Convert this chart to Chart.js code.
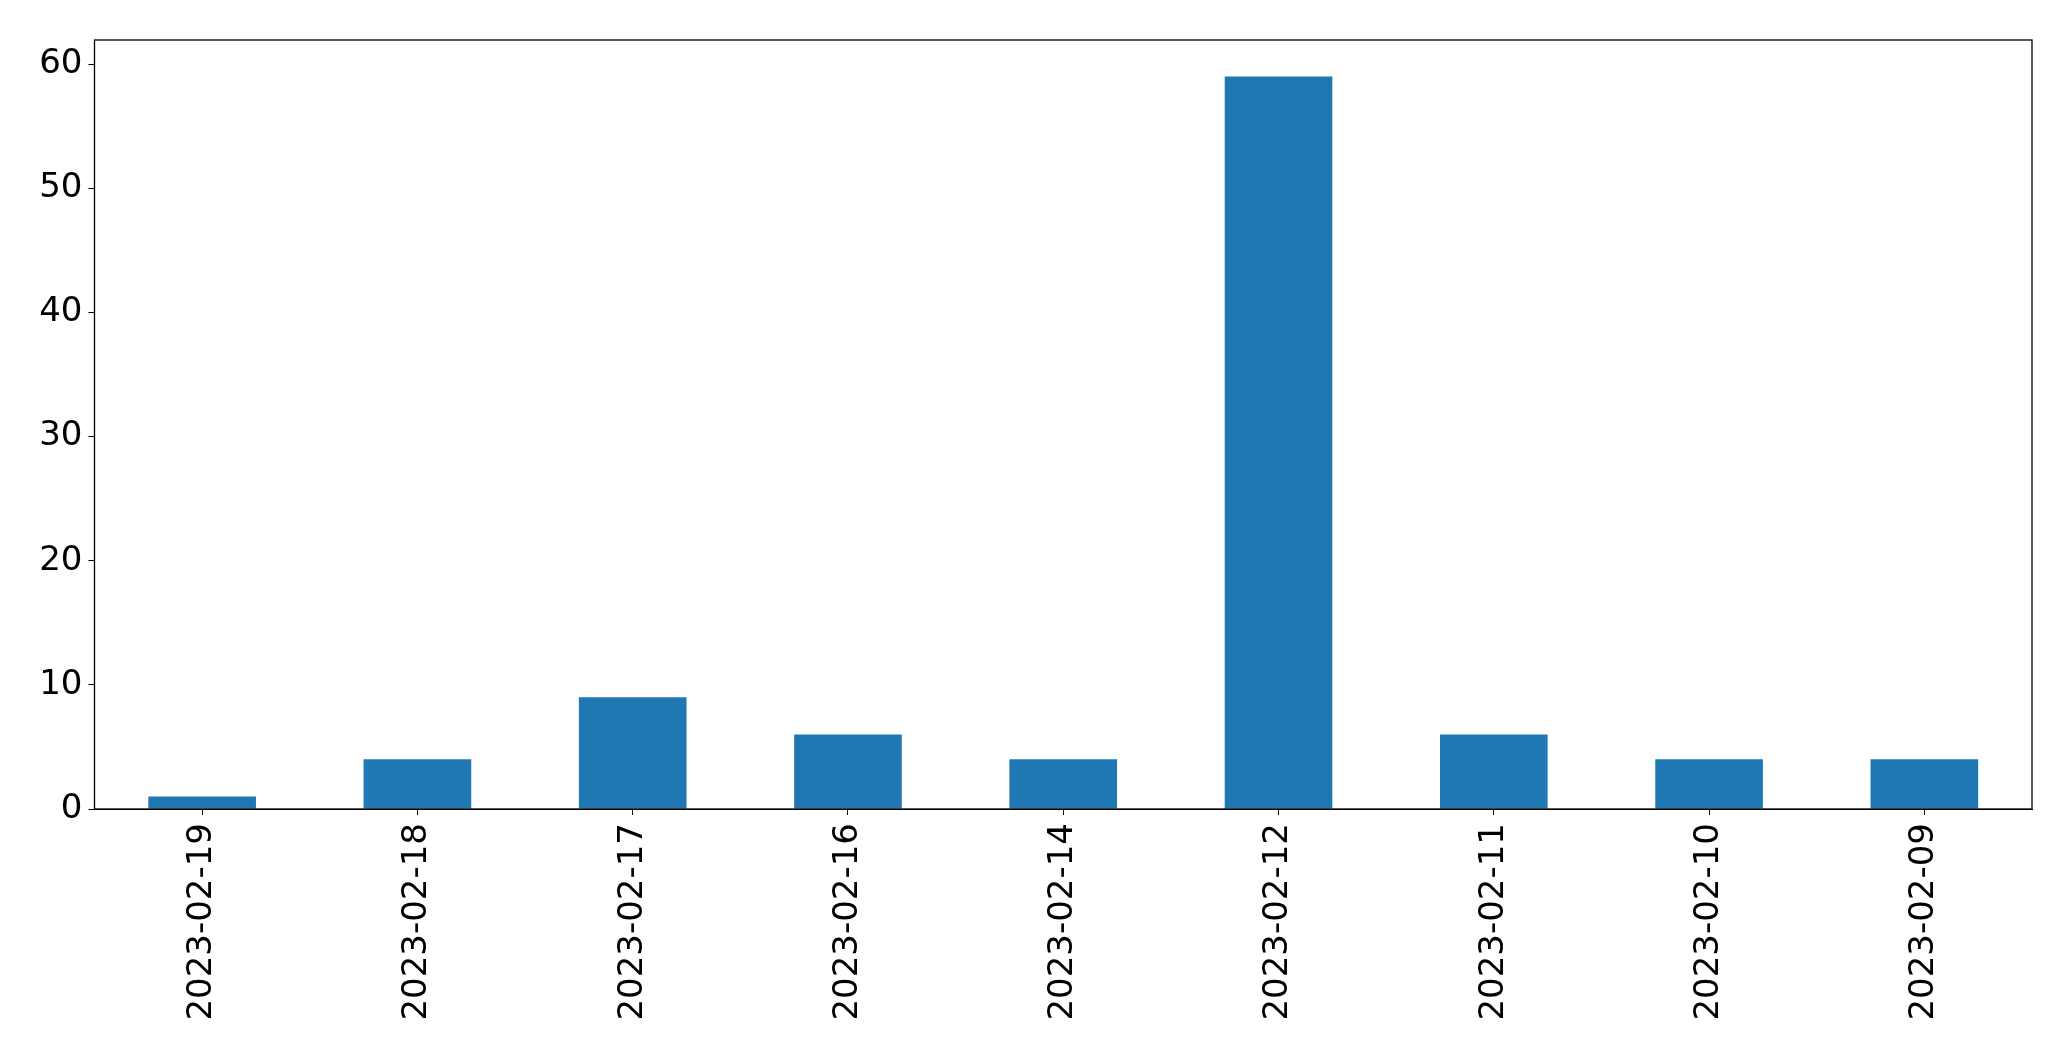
<!DOCTYPE html>
<html>
<head>
<meta charset="utf-8">
<script src="https://cdn.jsdelivr.net/npm/chart.js@4/dist/chart.umd.min.js"></script>
<style>
html, body { margin: 0; padding: 0; background: #fff; }
canvas { display: block; }
</style>
</head>
<body>
<canvas id="barChart" width="2071" height="1061"></canvas>
<script>
const dates = ["2023-02-19", "2023-02-18", "2023-02-17", "2023-02-16", "2023-02-14", "2023-02-12", "2023-02-11", "2023-02-10", "2023-02-09"];
const counts = [1, 4, 9, 6, 4, 59, 6, 4, 4];
const yTicks = [0, 10, 20, 30, 40, 50, 60];

// box round the plot, like matplotlib spines
const frame = {
  id: "frame",
  afterDatasetsDraw(chart) {
    const a = chart.chartArea;
    const ctx = chart.ctx;
    ctx.save();
    ctx.strokeStyle = "#000";
    ctx.lineWidth = 1.3;
    ctx.strokeRect(a.left, a.top, a.right - a.left, a.bottom - a.top);
    ctx.restore();
  }
};

new Chart(document.getElementById("barChart"), {
  type: "bar",
  data: {
    labels: dates,
    datasets: [{
      data: counts,
      backgroundColor: "#1f77b4",
      categoryPercentage: 1,
      barPercentage: 0.5
    }]
  },
  options: {
    responsive: false,
    animation: false,
    layout: { padding: { top: 40, right: 39, bottom: 0, left: 0 } },
    plugins: { legend: { display: false }, tooltip: { enabled: false } },
    scales: {
      x: {
        grid: { drawOnChartArea: false, offset: false, color: "#000", tickLength: 6 },
        border: { display: true, color: "#000" },
        ticks: {
          color: "#000",
          font: { family: "DejaVu Sans", size: 34 },
          minRotation: 90,
          maxRotation: 90,
          padding: 8
        },
        afterFit(scale) { scale.height = 252; }
      },
      y: {
        min: 0,
        max: 61.95,
        grid: { drawOnChartArea: false, color: "#000", tickLength: 6 },
        border: { display: true, color: "#000" },
        afterBuildTicks(scale) { scale.ticks = yTicks.map(v => ({ value: v })); },
        ticks: {
          color: "#000",
          font: { family: "DejaVu Sans", size: 34 },
          padding: 6
        },
        afterFit(scale) { scale.width = 94.5; }
      }
    }
  },
  plugins: [frame]
});
</script>
</body>
</html>
